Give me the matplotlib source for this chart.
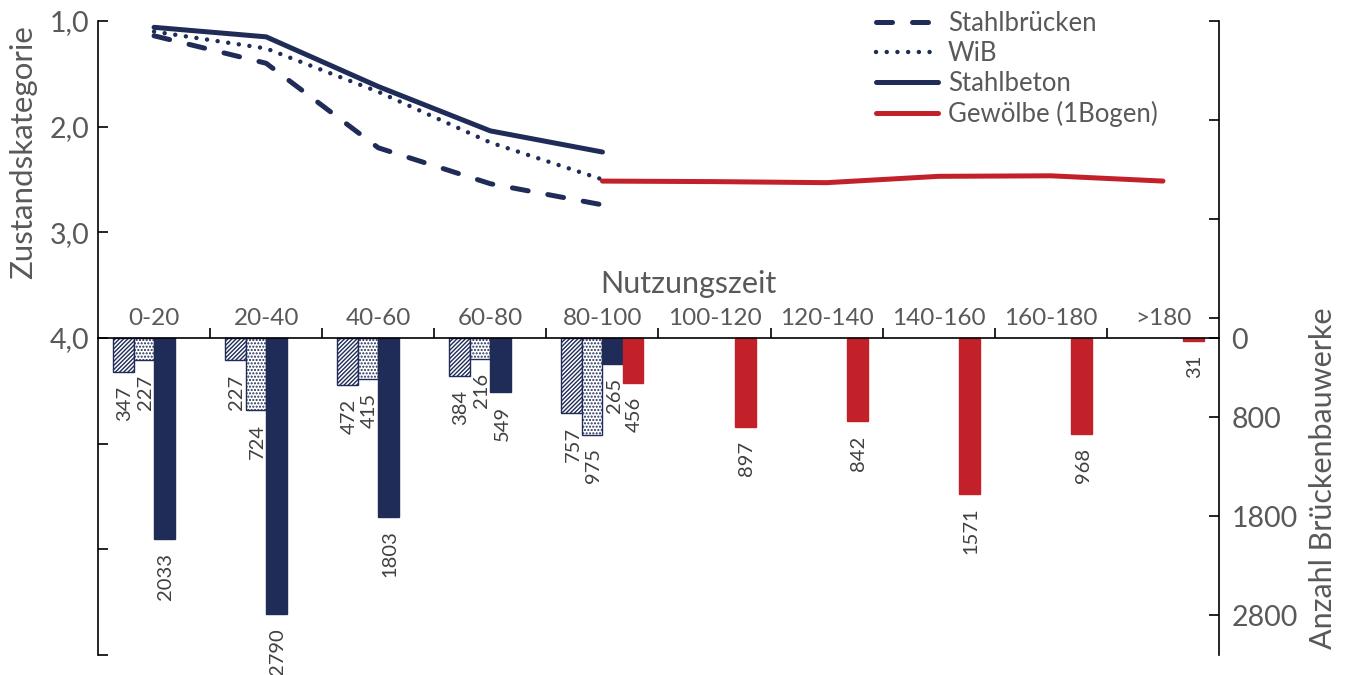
import numpy as np
import matplotlib
matplotlib.use('Agg')
import matplotlib.pyplot as plt

# Nutzungszeit classes (years)
zeit = ['0-20', '20-40', '40-60', '60-80', '80-100', '100-120', '120-140',
        '140-160', '160-180', '>180']

# mean Zustandskategorie per class
zk_stahl = [1.14, 1.40, 2.20, 2.54, 2.74]
zk_wib = [1.10, 1.26, 1.67, 2.15, 2.50]
zk_beton = [1.06, 1.15, 1.62, 2.04, 2.24]
zk_gewoelbe = [2.515, 2.52, 2.53, 2.47, 2.465, 2.515]

# number of bridges per class
n_stahl = [347, 227, 472, 384, 757]
n_wib = [227, 724, 415, 216, 975]
n_beton = [2033, 2790, 1803, 549, 265]
n_gewoelbe = [456, 897, 842, 1571, 968, 31]

navy = '#1f2c58'
red = '#c3212a'
grey = '#595959'

plt.rcParams['font.family'] = ['Lato', 'DejaVu Sans']
plt.rcParams['hatch.linewidth'] = 1.0

fig = plt.figure(figsize=(13.48, 6.75), dpi=100)
ax = fig.add_axes([0.0727, 0.0296, 0.8316, 0.9393])
ax2 = ax.twinx()
# lines + axis on top of the bars
ax.set_zorder(ax2.get_zorder() + 1)
ax.patch.set_visible(False)

x = np.arange(len(zeit)) + 0.5
x_st = x[:5]
x_gw = x[4:]
w = 0.183

b1 = ax2.bar(x_st - 1.5 * w, n_stahl, w, color='white', edgecolor=navy, hatch='////////', lw=1)
b2 = ax2.bar(x_st - 0.5 * w, n_wib, w, color='white', edgecolor=navy, hatch='.....', lw=1)
b3 = ax2.bar(x_st + 0.5 * w, n_beton, w, color=navy, edgecolor=navy, lw=1)
b4 = ax2.bar(x_gw + 1.5 * w, n_gewoelbe, w, color=red, edgecolor=red, lw=1)
for bars in (b1, b2, b3, b4):
    for r in bars:
        ax2.annotate(f'{r.get_height():.0f}', xy=(r.get_x() + r.get_width() / 2, r.get_height()),
                     xytext=(1, -10), textcoords='offset points', rotation=90,
                     ha='center', va='top', fontsize=14.5, color='#404040')

ax.plot(x_st, zk_stahl, color=navy, lw=3.6, dashes=(3.2, 4), dash_capstyle='round', label='Stahlbrücken')
ax.plot(x_st, zk_wib, color=navy, lw=3.2, dashes=(0.01, 2.4), dash_capstyle='round', label='WiB')
ax.plot(x_st, zk_beton, color=navy, lw=3.6, solid_capstyle='round', label='Stahlbeton')
ax.plot(x_gw, zk_gewoelbe, color=red, lw=3.6, solid_capstyle='round', label='Gewölbe (1Bogen)')

# left axis: condition rating
ax.set_xlim(0, 10)
ax.set_ylim(7, 1)
ax.set_yticks([1, 2, 3, 4, 5, 6, 7])
ax.set_yticklabels(['1,0', '2,0', '3,0', '4,0', '', '', ''])
ax.tick_params(axis='y', direction='in', length=7, width=1.2, labelsize=20.5, labelcolor=grey, pad=6)
ax.spines['bottom'].set_position(('data', 4))
ax.set_xticks(np.arange(1, 10))
ax.set_xticklabels([])
ax.tick_params(axis='x', direction='in', length=7, width=1.2)
ax.spines['top'].set_visible(False)
ax.spines['right'].set_visible(False)
for s in ('left', 'bottom'):
    ax.spines[s].set_linewidth(1.2)

# right axis: bridge count, zero level with 4,0
ax2.set_ylim(3200, -3200)
ax2.set_yticks([-3200, -2200, -1200, -200, 0, 800, 1800, 2800])
ax2.set_yticklabels(['', '', '', '', '0', '800', '1800', '2800'])
ax2.tick_params(axis='y', direction='in', length=7, width=1.2, labelsize=20.5, labelcolor=grey, pad=9)
for s in ('top', 'bottom', 'left'):
    ax2.spines[s].set_visible(False)
ax2.spines['right'].set_linewidth(1.2)

for xi, lab in zip(x, zeit):
    ax.annotate(lab, xy=(xi, 4), xytext=(0, 6.5), textcoords='offset points',
                ha='center', va='bottom', fontsize=17.5, color=grey)

fig.text(0.511, 0.566, 'Nutzungszeit', ha='center', va='baseline', fontsize=22, color=grey)
fig.text(23 / 1348, 1 - 152 / 675, 'Zustandskategorie', rotation=90, ha='center', va='center',
         fontsize=22.5, color=grey)
fig.text(1323 / 1348, 1 - 478 / 675, 'Anzahl Brückenbauwerke', rotation=90, ha='center', va='center',
         fontsize=22, color=grey)

leg = ax.legend(loc='upper left', bbox_to_anchor=(0.694, 1.016), frameon=False, fontsize=18.5,
                handlelength=2.4, handletextpad=0.4, labelspacing=0.19, borderpad=0, borderaxespad=0)
for t in leg.get_texts():
    t.set_color(grey)

fig.savefig('out.png', dpi=100)
